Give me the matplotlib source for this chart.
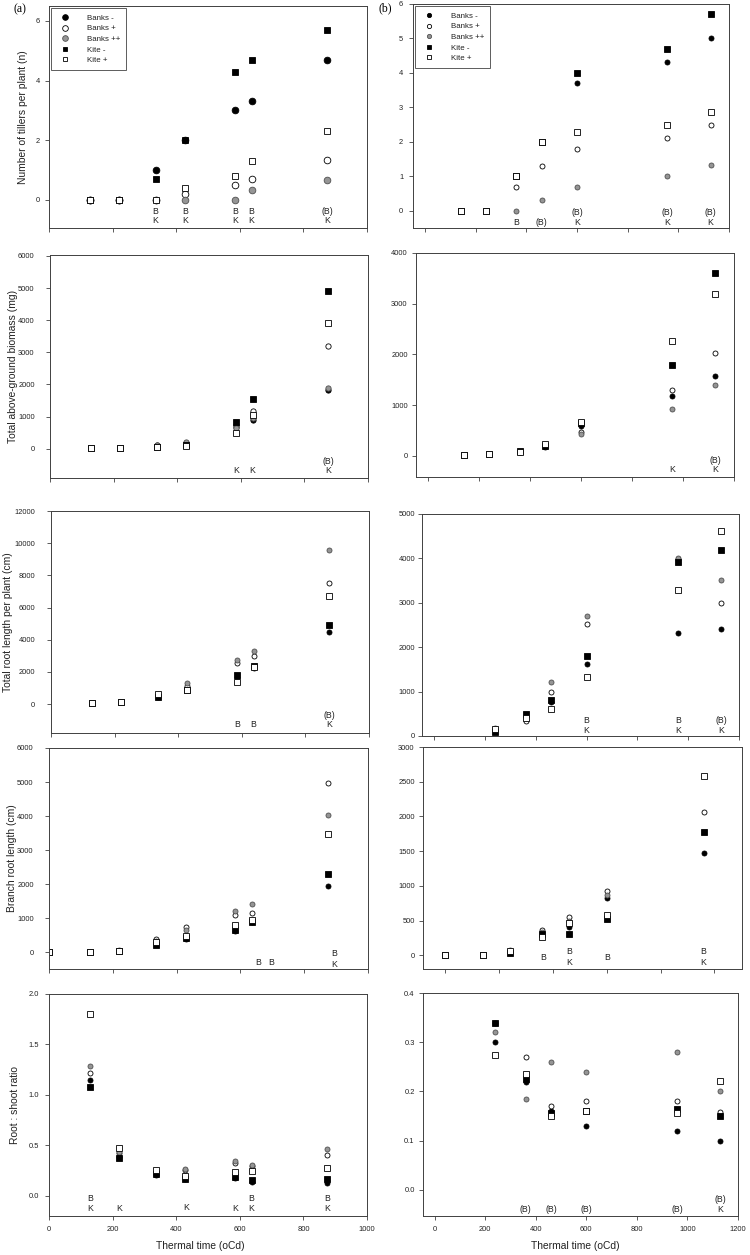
import matplotlib
matplotlib.use("Agg")
import matplotlib.pyplot as plt
import numpy as np

plt.rcParams['font.family'] = ['Liberation Sans', 'DejaVu Sans']

nan = np.nan
series_names = ["Banks -", "Banks +", "Banks ++", "Kite -", "Kite +"]

# ---------------- (a) left column ----------------
xa = [128, 220, 335, 428, 584, 637, 874]
xa_branch = [0, 128, 220, 335, 428, 584, 637, 874]

till_a_bm = [0, 0, 1.0, 2.0, 3.0, 3.3, 4.7]
till_a_bp = [0, 0, 0, 0.2, 0.5, 0.7, 1.33]
till_a_bpp = [0, 0, 0, 0, 0, 0.33, 0.67]
till_a_km = [0, 0, 0.7, 2.0, 4.3, 4.7, 5.7]
till_a_kp = [0, 0, 0, 0.4, 0.8, 1.3, 2.3]

bio_a_bm = [10, 20, 60, 150, 750, 900, 1820]
bio_a_bp = [10, 20, 100, 180, 680, 1180, 3200]
bio_a_bpp = [10, 20, 120, 200, 640, 950, 1880]
bio_a_km = [10, 20, 60, 100, 830, 1550, 4900]
bio_a_kp = [10, 20, 40, 70, 500, 1050, 3900]

trl_a_bm = [50, 130, 450, 950, 1650, 2250, 4480]
trl_a_bp = [50, 130, 550, 1150, 2550, 3000, 7500]
trl_a_bpp = [50, 130, 560, 1300, 2750, 3320, 9600]
trl_a_km = [50, 130, 430, 900, 1800, 2350, 4900]
trl_a_kp = [50, 130, 600, 880, 1400, 2300, 6700]

brl_a_bm = [0, 0, 50, 230, 400, 620, 880, 1960]
brl_a_bp = [0, 0, 50, 380, 740, 1100, 1140, 4980]
brl_a_bpp = [0, 0, 80, 330, 650, 1200, 1430, 4030]
brl_a_km = [0, 0, 50, 220, 430, 650, 880, 2300]
brl_a_kp = [0, 0, 50, 300, 480, 800, 950, 3460]

rs_a_bm = [1.15, 0.38, 0.21, 0.17, 0.18, 0.14, 0.13]
rs_a_bp = [1.22, 0.42, 0.22, 0.26, 0.33, 0.30, 0.40]
rs_a_bpp = [1.29, 0.43, 0.22, 0.27, 0.35, 0.31, 0.46]
rs_a_km = [1.08, 0.37, 0.22, 0.17, 0.19, 0.16, 0.17]
rs_a_kp = [1.80, 0.47, 0.26, 0.20, 0.24, 0.25, 0.28]

# ---------------- (b) right column ----------------
xb = [140, 240, 360, 460, 600, 957, 1127]
xb_root = [240, 360, 460, 600, 960, 1130]
xb_branch = [0, 140, 240, 360, 460, 600, 960]

till_b_bm = [0, 0, 1.0, 2.0, 3.7, 4.33, 5.0]
till_b_bp = [0, 0, 0.7, 1.3, 1.8, 2.1, 2.5]
till_b_bpp = [0, 0, 0, 0.3, 0.7, 1.0, 1.33]
till_b_km = [0, 0, 1.0, 2.0, 4.0, 4.7, 5.7]
till_b_kp = [0, 0, 1.0, 2.0, 2.3, 2.5, 2.87]

bio_b_bm = [10, 35, 80, 180, 600, 1180, 1580]
bio_b_bp = [10, 35, 80, 200, 480, 1300, 2020]
bio_b_bpp = [10, 35, 80, 200, 430, 920, 1400]
bio_b_km = [10, 35, 100, 200, 650, 1800, 3600]
bio_b_kp = [10, 35, 72, 235, 675, 2270, 3200]

trl_b_bm = [120, 450, 760, 1620, 2320, 2420]
trl_b_bp = [150, 330, 980, 2530, 3980, 3000]
trl_b_bpp = [180, 420, 1220, 2700, 4020, 3520]
trl_b_km = [100, 490, 820, 1800, 3920, 4200]
trl_b_kp = [150, 400, 600, 1320, 3280, 4620]

brl_b_bm = [0, 0, 50, 310, 410, 820, 1480]
brl_b_bp = [0, 0, 50, 370, 550, 920, 2070]
brl_b_bpp = [0, 0, 80, 330, 500, 870, nan]
brl_b_km = [0, 0, 30, 300, 300, 530, 1770]
brl_b_kp = [0, 0, 60, 270, 470, 580, 2580]

rs_b_bm = [0.30, 0.22, 0.16, 0.13, 0.12, 0.10]
rs_b_bp = [0.34, 0.27, 0.17, 0.18, 0.18, 0.158]
rs_b_bpp = [0.32, 0.185, 0.26, 0.24, 0.28, 0.20]
rs_b_km = [0.34, 0.225, 0.157, 0.16, 0.164, 0.15]
rs_b_kp = [0.275, 0.235, 0.15, 0.16, 0.156, 0.222]

# ---------------- significance annotations (x, y, text) ----------------
ann_till_a = [(335, -0.39, "B"), (335, -0.70, "K"), (428, -0.39, "B"), (428, -0.70, "K"),
              (584, -0.39, "B"), (584, -0.70, "K"), (637, -0.39, "B"), (637, -0.70, "K"),
              (874, -0.39, "(B)"), (874, -0.70, "K")]
ann_till_b = [(360, -0.34, "B"), (460, -0.34, "(B)"), (600, -0.06, "(B)"), (600, -0.34, "K"),
              (957, -0.06, "(B)"), (957, -0.34, "K"), (1127, -0.06, "(B)"), (1127, -0.34, "K")]
ann_bio_a = [(584, -680, "K"), (637, -680, "K"), (874, -395, "(B)"), (874, -680, "K")]
ann_bio_b = [(957, -270, "K"), (1127, -86, "(B)"), (1127, -270, "K")]
ann_trl_a = [(584, -1290, "B"), (637, -1290, "B"), (874, -730, "(B)"), (874, -1290, "K")]
ann_trl_b = [(600, 360, "B"), (600, 120, "K"), (960, 360, "B"), (960, 120, "K"),
             (1130, 360, "(B)"), (1130, 120, "K")]
ann_brl_a = [(655, -313, "B"), (698, -313, "B"), (893, -40, "B"), (893, -362, "K")]
ann_brl_b = [(364, -29, "B"), (461, 48, "B"), (461, -110, "K"), (600, -38, "B"),
             (960, 48, "B"), (960, -110, "K")]
ann_rs_a = [(130, -0.023, "B"), (130, -0.13, "K"), (222, -0.13, "K"), (430, -0.12, "K"),
            (584, -0.13, "K"), (637, -0.023, "B"), (637, -0.13, "K"),
            (874, -0.023, "B"), (874, -0.13, "K")]
ann_rs_b = [(360, -0.039, "(B)"), (460, -0.039, "(B)"), (600, -0.039, "(B)"),
            (960, -0.039, "(B)"), (1130, -0.020, "(B)"), (1130, -0.039, "K")]

W, H = 750, 1255
fig = plt.figure(figsize=(W / 100, H / 100), dpi=100)

def make_ax(x0, x1, y0, y1):
    return fig.add_axes([x0 / W, 1 - y1 / H, (x1 - x0) / W, (y1 - y0) / H])

GRAY = "#959595"
SPINE = "#404040"
TXT = "#222222"

def draw(ax, x, ys, ms_c, ms_s):
    styles = [
        dict(marker="o", mfc="black", mec="black", ms=ms_c),
        dict(marker="o", mfc="white", mec="black", ms=ms_c),
        dict(marker="o", mfc=GRAY, mec="#505050", ms=ms_c),
        dict(marker="s", mfc="black", mec="black", ms=ms_s),
        dict(marker="s", mfc="white", mec="black", ms=ms_s),
    ]
    for y, st, name in zip(ys, styles, series_names):
        ax.plot(x, y, linestyle="none", mew=0.6, label=name, **st)

def style(ax, xlim, xticks, ylim, yticks, yfmt=None, xlabels=False, ypad=2.5):
    ax.set_xlim(*xlim)
    ax.set_ylim(*ylim)
    ax.set_xticks(xticks)
    ax.set_yticks(yticks)
    if yfmt:
        ax.set_yticklabels([yfmt % v for v in yticks])
    if not xlabels:
        ax.set_xticklabels([])
    ax.tick_params(direction="out", length=3, width=0.6, labelsize=5.4,
                   color=SPINE, labelcolor=TXT)
    ax.tick_params(axis="y", pad=ypad)
    ax.tick_params(axis="x", pad=4)
    for sp in ax.spines.values():
        sp.set_color(SPINE)
        sp.set_linewidth(0.7)

def annotate(ax, anns, fs=6.3):
    for x, y, t in anns:
        ax.text(x, y, t, ha="center", va="center", fontsize=fs, color=TXT)

def ylab(ax, text, xfrac):
    ax.set_ylabel(text, fontsize=7.4, color=TXT)
    ax.yaxis.set_label_coords(xfrac, 0.5)

def legend(ax):
    leg = ax.legend(loc="upper left", fontsize=5.7, frameon=True, fancybox=False,
                    borderpad=0.75, labelspacing=0.38, handletextpad=1.7, borderaxespad=0.3,
                    markerscale=0.85)
    leg.get_frame().set_edgecolor("#333333")
    leg.get_frame().set_linewidth(0.7)
    for t in leg.get_texts():
        t.set_color(TXT)

xt_a = [0, 200, 400, 600, 800, 1000]
xt_b = [0, 200, 400, 600, 800, 1000, 1200]
xl_b = (-48, 1200)

# Row 1
ax = make_ax(49, 367, 6, 228)
draw(ax, xa, [till_a_bm, till_a_bp, till_a_bpp, till_a_km, till_a_kp], 4.8, 4.2)
style(ax, (0, 1000), xt_a, (-0.94, 6.5), [0, 2, 4, 6], ypad=3.5)
annotate(ax, ann_till_a)
ylab(ax, "Number of tillers per plant (n)", -0.066)
legend(ax)

ax = make_ax(413, 729, 4, 228)
draw(ax, xb, [till_b_bm, till_b_bp, till_b_bpp, till_b_km, till_b_kp], 3.6, 3.8)
style(ax, xl_b, xt_b, (-0.5, 6), [0, 1, 2, 3, 4, 5, 6], ypad=4)
annotate(ax, ann_till_b)
legend(ax)

# Row 2
ax = make_ax(50, 368, 255, 478)
draw(ax, xa, [bio_a_bm, bio_a_bp, bio_a_bpp, bio_a_km, bio_a_kp], 3.8, 3.8)
style(ax, (0, 1000), xt_a, (-915, 6030), [0, 1000, 2000, 3000, 4000, 5000, 6000], ypad=8)
annotate(ax, ann_bio_a)
ylab(ax, "Total above-ground biomass (mg)", -0.100)

ax = make_ax(416, 734, 253, 477)
draw(ax, xb, [bio_b_bm, bio_b_bp, bio_b_bpp, bio_b_km, bio_b_kp], 3.6, 3.8)
style(ax, xl_b, xt_b, (-415, 4000), [0, 1000, 2000, 3000, 4000], ypad=3)
annotate(ax, ann_bio_b)

# Row 3
ax = make_ax(51, 369, 511, 733)
draw(ax, xa, [trl_a_bm, trl_a_bp, trl_a_bpp, trl_a_km, trl_a_kp], 3.6, 3.8)
style(ax, (0, 1000), xt_a, (-1800, 12000), [0, 2000, 4000, 6000, 8000, 10000, 12000], ypad=8.5)
annotate(ax, ann_trl_a)
ylab(ax, "Total root length per plant (cm)", -0.119)

ax = make_ax(422, 739, 514, 736)
draw(ax, xb_root, [trl_b_bm, trl_b_bp, trl_b_bpp, trl_b_km, trl_b_kp], 3.6, 3.8)
style(ax, xl_b, xt_b, (0, 5000), [0, 1000, 2000, 3000, 4000, 5000], ypad=2)
annotate(ax, ann_trl_b)

# Row 4
ax = make_ax(49, 368, 748, 969)
draw(ax, xa_branch, [brl_a_bm, brl_a_bp, brl_a_bpp, brl_a_km, brl_a_kp], 3.6, 3.8)
style(ax, (0, 1000), xt_a, (-490, 6000), [0, 1000, 2000, 3000, 4000, 5000, 6000], ypad=8)
annotate(ax, ann_brl_a)
ylab(ax, "Branch root length (cm)", -0.100)

ax = make_ax(423, 742, 747, 969)
draw(ax, xb_branch, [brl_b_bm, brl_b_bp, brl_b_bpp, brl_b_km, brl_b_kp], 3.6, 3.8)
style(ax, (-83, 1103), [0, 200, 400, 600, 800, 1000], (-197, 3000),
      [0, 500, 1000, 1500, 2000, 2500, 3000], ypad=3)
annotate(ax, ann_brl_b)

# Row 5
ax = make_ax(49, 367, 994, 1216)
draw(ax, xa, [rs_a_bm, rs_a_bp, rs_a_bpp, rs_a_km, rs_a_kp], 3.6, 3.8)
style(ax, (0, 1000), xt_a, (-0.2, 2.0), [0, 0.5, 1.0, 1.5, 2.0], yfmt="%.1f",
      xlabels=True, ypad=4)
annotate(ax, ann_rs_a)
ylab(ax, "Root : shoot ratio", -0.091)
ax.set_xlabel("Thermal time (oCd)", fontsize=7.4, color=TXT)
ax.xaxis.set_label_coords(0.475, -0.113)

ax = make_ax(423, 738, 993, 1216)
draw(ax, xb_root, [rs_b_bm, rs_b_bp, rs_b_bpp, rs_b_km, rs_b_kp], 3.6, 3.8)
style(ax, (-46, 1200), xt_b, (-0.053, 0.4), [0, 0.1, 0.2, 0.3, 0.4], yfmt="%.1f",
      xlabels=True, ypad=3)
annotate(ax, ann_rs_b)
ax.set_xlabel("Thermal time (oCd)", fontsize=7.4, color=TXT)
ax.xaxis.set_label_coords(0.483, -0.113)

# Panel letters
fig.text(20 / W, 1 - 9 / H, "(a)", fontsize=8.5, family="Liberation Serif", ha="center", va="center")
fig.text(385 / W, 1 - 8 / H, "(b)", fontsize=8.5, family="Liberation Serif", ha="center", va="center")

fig.savefig("out.png", dpi=100)
